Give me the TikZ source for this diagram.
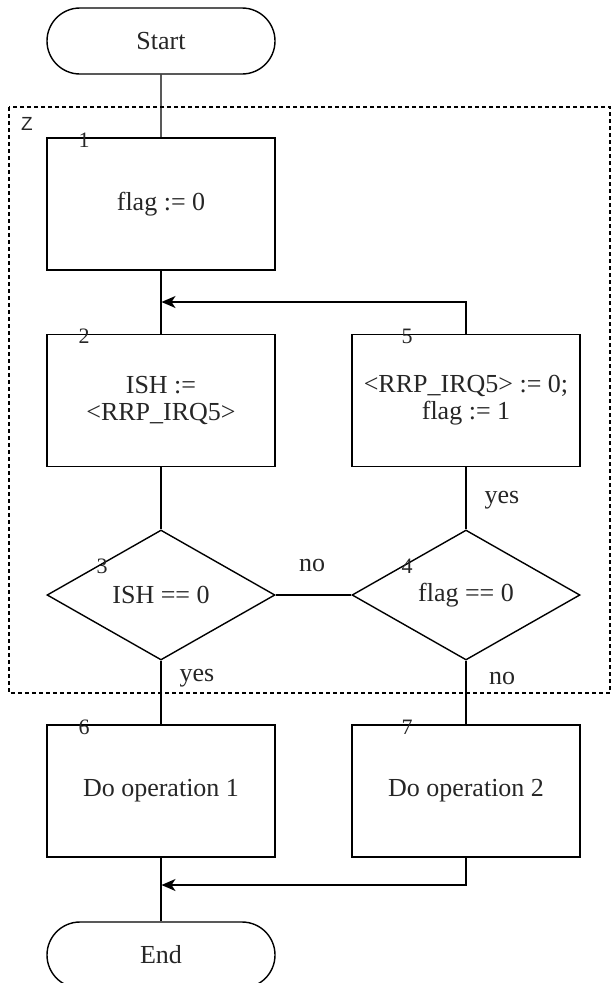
\documentclass[tikz,border=0pt]{standalone}
\usepackage{fontspec}
\setmainfont{Liberation Serif}
\newfontfamily\zfont{Liberation Sans}
\usetikzlibrary{shapes.geometric,shapes.misc,arrows.meta}

\begin{document}
\begin{tikzpicture}[x=1pt,y=-1pt,
    every node/.style={font=\fontsize{26}{27}\selectfont, text=black!85},
    box/.style={draw, line width=1.4pt, minimum width=228pt, minimum height=132pt, inner sep=0pt, align=center},
    term/.style={draw, rounded rectangle, line width=1.4pt, minimum width=228pt, minimum height=66pt, inner sep=0pt},
    dec/.style={draw, diamond, line width=1.4pt, minimum width=228pt, minimum height=130pt, inner sep=0pt},
    num/.style={inner sep=0pt, font=\fontsize{22}{22}\selectfont},
    wire/.style={line width=1.4pt},
    arr/.style={line width=1.4pt, -{Stealth[length=14pt, width=12pt, inset=4pt]}},
    frame/.style={line width=1.2pt, dash pattern=on 4pt off 3pt}]
    \useasboundingbox (0,0) rectangle (613,983);
    \clip (0,0) rectangle (613,983);

    % region Z
    \draw[frame] (9,107) rectangle (610,693);
    \node[font=\zfont\fontsize{19}{19}\selectfont, inner sep=0pt] (zlab) at (27,124) {Z};

    % blocks
    \node[term] (start) at (161,41) {Start};
    \node[box] (b1) at (161,204) {flag := 0};
    \node[box] (b2) at (161,400.5) {ISH :=\\\textless RRP\_IRQ5\textgreater};
    \node[box] (b5) at (466,400.5) {\textless RRP\_IRQ5\textgreater{} := 0;\\flag := 1};
    \node[dec] (d3) at (161,595) {ISH == 0};
    \node[dec] (d4) at (466,595) {flag == 0};
    \node[box] (b6) at (161,791) {Do operation 1};
    \node[box] (b7) at (466,791) {Do operation 2};
    \node[term] (end) at (161,955) {End};

    % block numbers
    \foreach \n/\x/\y in {1/84/140, 2/84/336, 5/407/336, 3/102/566, 4/407/566, 6/84/727, 7/407/727}
        \node[num] (n\n) at (\x,\y) {\n};

    % connectors
    \coordinate (m1) at (161.5,302);
    \coordinate (m2) at (161.5,885);
    \draw[wire] (start) -- (b1);
    \draw[wire] (b1) -- (b2);
    \draw[wire] (b2) -- (d3);
    \draw[wire] (d3.east) -- (d4.west);
    \draw[wire] (d4) -- (b5);
    \draw[arr] (b5.north) |- (m1);
    \draw[wire] (d3) -- (b6);
    \draw[wire] (d4) -- (b7);
    \draw[wire] (b6) -- (end);
    \draw[arr] (b7.south) |- (m2);

    % branch labels
    \node (no1) at (312,565) {no};
    \node (yes1) at (502,500) {yes};
    \node (yes2) at (197,678) {yes};
    \node (no2) at (502,678) {no};
\end{tikzpicture}
\end{document}
